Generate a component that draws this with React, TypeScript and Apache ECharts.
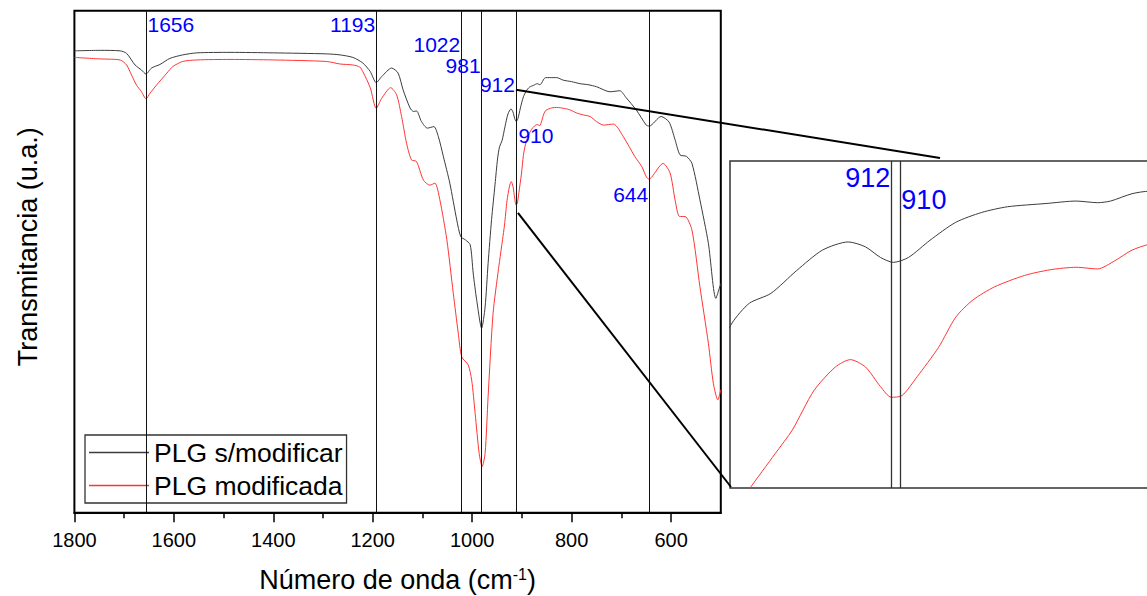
import React, { useEffect, useRef } from "react";
import * as echarts from "echarts";

// ---- Data (wavenumber in cm^-1, transmittance in arbitrary units) ----
const blackWn = [1800, 1748, 1708, 1695, 1678, 1665, 1656, 1645, 1628, 1608, 1582, 1554, 1487, 1400, 1293, 1266, 1240, 1220, 1205, 1193, 1182, 1162, 1149, 1139, 1125, 1118, 1112, 1102, 1090, 1077, 1068, 1058, 1045, 1031, 1023, 1014, 1004, 998, 991, 981, 974, 968, 961, 954, 949, 945, 940, 934, 928, 922, 918, 914.5, 911.5, 908, 903, 897, 891, 885, 876, 869, 864, 861, 856, 852, 844, 830, 817, 800, 783, 767, 750, 723, 703, 691, 670, 650, 644, 620, 604, 592, 582, 569, 558, 542, 525, 510, 502, 500];
const blackT = [91.9, 92.0, 91.9, 91.4, 89.1, 88.1, 87.3, 88.5, 89.2, 90.4, 91.1, 91.5, 91.6, 91.5, 91.3, 91.1, 90.6, 89.5, 87.8, 85.6, 86.8, 88.5, 87.5, 84.2, 80.6, 79.9, 80.0, 77.9, 76.6, 76.9, 74.9, 71.0, 65.7, 58.4, 55.1, 54.5, 53.5, 47.9, 42.6, 37.0, 41.2, 49.8, 58.5, 65.5, 70.5, 72.9, 74.1, 76.9, 79.4, 80.4, 79.8, 78.5, 77.9, 78.5, 80.6, 82.8, 84.0, 84.7, 85.1, 85.4, 85.2, 85.4, 86.3, 86.6, 86.6, 86.6, 86.1, 85.8, 85.4, 85.2, 84.8, 83.8, 84.0, 82.7, 80.2, 77.2, 77.0, 78.9, 77.8, 74.3, 71.3, 71.0, 69.6, 62.4, 53.8, 42.9, 45.2, 45.8];

const redWn = [1800, 1748, 1708, 1695, 1685, 1675, 1665, 1656, 1648, 1635, 1614, 1602, 1582, 1554, 1487, 1400, 1293, 1266, 1240, 1226, 1220, 1205, 1193, 1182, 1164, 1152, 1142, 1132, 1122, 1112, 1098, 1085, 1075, 1065, 1051, 1038, 1028, 1021, 1008, 1001, 994, 986, 980, 974, 968, 958, 947, 945, 939, 935, 930, 925, 921.5, 918, 914.5, 912, 909.5, 906, 901, 897, 893, 888, 881, 875, 869, 864, 860, 856, 852, 846, 840, 830, 815, 803, 790, 776, 763, 750, 736, 716, 696, 673, 659, 649, 644, 639, 616, 602, 592, 583, 572, 558, 542, 525, 515, 506, 500];
const redT = [90.6, 90.3, 90.1, 89.1, 87.1, 85.1, 83.8, 82.4, 83.5, 85.1, 87.5, 88.8, 89.8, 90.1, 90.2, 90.1, 89.8, 89.3, 89.1, 88.7, 87.8, 84.6, 80.5, 82.5, 84.6, 83.2, 78.9, 73.6, 70.3, 70.0, 66.3, 65.3, 65.7, 62.4, 54.5, 43.9, 36.0, 31.3, 29.7, 26.7, 20.1, 12.2, 9.6, 12.2, 23.4, 39.9, 48.8, 50.2, 54.5, 57.4, 62.2, 65.1, 66.0, 65.1, 62.7, 61.4, 61.6, 63.9, 67.5, 71.2, 73.3, 74.9, 76.3, 77.0, 77.3, 77.1, 78.1, 79.4, 80.1, 80.4, 80.6, 80.7, 80.5, 80.2, 79.6, 79.2, 78.9, 77.9, 77.2, 77.4, 74.9, 71.0, 69.0, 66.8, 66.5, 66.9, 69.6, 67.7, 62.4, 59.1, 59.1, 56.4, 45.2, 34.0, 26.1, 22.8, 24.8];

const seriesNames = ["PLG s/modificar", "PLG modificada"];
const peakLines = [1656, 1193, 1022, 981, 912, 644];
const mainLabels = [
  { value: 1656, text: "1656", side: "right", y: 24 },
  { value: 1193, text: "1193", side: "left", y: 24 },
  { value: 1022, text: "1022", side: "left", y: 44.5 },
  { value: 981, text: "981", side: "left", y: 65.5 },
  { value: 912, text: "912", side: "left", y: 84.5 },
  { value: 910, text: "910", side: "right", y: 135.5 },
  { value: 644, text: "644", side: "left", y: 194.5 },
];
const insetLines = [912, 910];
const insetLabels = [
  { value: 912, text: "912", side: "left", y: 178 },
  { value: 910, text: "910", side: "right", y: 200 },
];
const majorTicks = [600, 800, 1000, 1200, 1400, 1600, 1800];
const minorTicks = [700, 900, 1100, 1300, 1500, 1700];

const FONT = "'Liberation Sans', Arial, sans-serif";
const BLACK = "#3c3c3c";
const RED = "#ff3535";
const BLUE = "#0000ff";

const MAIN = { left: 74.4, top: 10.7, width: 646.4, height: 502 };
const INSET = { left: 730, top: 161, width: 430, height: 327 };

const toPairs = (xs: number[], ys: number[]) => xs.map((x, i) => [x, ys[i]]);

export default function App() {
  const ref = useRef<HTMLDivElement>(null);

  useEffect(() => {
    if (!ref.current) return;
    const chart = echarts.init(ref.current, null, { renderer: "svg" });

    const vLine = (vals: number[], color: string, width: number) => ({
      silent: true,
      symbol: ["none", "none"],
      label: { show: false },
      emphasis: { disabled: true },
      lineStyle: { color, width, type: "solid" },
      data: vals.map((v) => ({ xAxis: v })),
    });

    const hiddenAxis = {
      axisLine: { show: false },
      axisTick: { show: false },
      axisLabel: { show: false },
      splitLine: { show: false },
    };

    const option: any = {
      animation: false,
      backgroundColor: "#ffffff",
      grid: [
        {
          ...MAIN,
          outerBoundsMode: "none",
          containLabel: false,
          show: true,
          borderColor: "#000",
          borderWidth: 2,
          backgroundColor: "transparent",
        },
        {
          ...INSET,
          outerBoundsMode: "none",
          containLabel: false,
          show: true,
          borderColor: "#333",
          borderWidth: 1.5,
          backgroundColor: "transparent",
        },
      ],
      xAxis: [
        {
          type: "value",
          gridIndex: 0,
          position: "bottom",
          offset: 0,
          min: 500,
          max: 1800,
          inverse: true,
          name: "Número de onda (cm{sup|-1})",
          nameLocation: "middle",
          nameGap: 54,
          nameTextStyle: {
            fontSize: 27,
            color: "#000",
            fontFamily: FONT,
            rich: { sup: { fontSize: 16, verticalAlign: "top", color: "#000", fontFamily: FONT } },
          },
          axisLine: { show: true, lineStyle: { color: "#000", width: 2 } },
          axisTick: { show: true, length: 9.5, customValues: majorTicks, lineStyle: { color: "#000", width: 1.5 } },
          axisLabel: {
            show: true,
            customValues: majorTicks,
            fontSize: 20,
            color: "#000",
            fontFamily: FONT,
            margin: 17,
            formatter: (v: number) => String(v),
          },
          splitLine: { show: false },
        },
        {
          type: "value",
          gridIndex: 0,
          position: "bottom",
          offset: 0,
          min: 500,
          max: 1800,
          inverse: true,
          axisLine: { show: false },
          axisTick: { show: true, length: 5.5, customValues: minorTicks, lineStyle: { color: "#000", width: 1.5 } },
          axisLabel: { show: false },
          splitLine: { show: false },
        },
        { type: "value", gridIndex: 1, min: 849.5, max: 949.5, inverse: true, ...hiddenAxis },
      ],
      yAxis: [
        {
          type: "value",
          gridIndex: 0,
          min: 0.45,
          max: 99.85,
          name: "Transmitancia (u.a.)",
          nameLocation: "middle",
          nameGap: 33,
          nameTextStyle: { fontSize: 27, color: "#000", fontFamily: FONT, padding: [0, 0, 0, 30] },
          ...hiddenAxis,
        },
        { type: "value", gridIndex: 1, min: 50.3, max: 90.3, ...hiddenAxis },
      ],
      legend: {
        data: seriesNames,
        orient: "vertical",
        left: 85,
        top: 435,
        padding: [4, 4, 4, 4],
        icon: "rect",
        itemWidth: 60,
        itemHeight: 1.6,
        itemGap: 6,
        borderColor: "#333",
        borderWidth: 1.3,
        backgroundColor: "#fff",
        textStyle: { fontSize: 26.5, color: "#000", fontFamily: FONT, lineHeight: 26 },
      },
      series: [
        {
          name: seriesNames[0],
          type: "line",
          xAxisIndex: 0,
          yAxisIndex: 0,
          data: toPairs(blackWn, blackT),
          symbol: "none",
          smooth: 0.25,
          lineStyle: { color: BLACK, width: 1 },
          itemStyle: { color: BLACK },
          markLine: vLine(peakLines, "#111", 1),
          z: 3,
        },
        {
          name: seriesNames[1],
          type: "line",
          xAxisIndex: 0,
          yAxisIndex: 0,
          data: toPairs(redWn, redT),
          symbol: "none",
          smooth: 0.25,
          lineStyle: { color: RED, width: 1 },
          itemStyle: { color: RED },
          z: 3,
        },
        {
          name: seriesNames[0],
          type: "line",
          xAxisIndex: 2,
          yAxisIndex: 1,
          data: toPairs(blackWn, blackT),
          symbol: "none",
          smooth: 0.25,
          lineStyle: { color: BLACK, width: 1 },
          itemStyle: { color: BLACK },
          markLine: vLine(insetLines, "#333", 1.3),
        },
        {
          name: seriesNames[1],
          type: "line",
          xAxisIndex: 2,
          yAxisIndex: 1,
          data: toPairs(redWn, redT),
          symbol: "none",
          smooth: 0.25,
          lineStyle: { color: RED, width: 1 },
          itemStyle: { color: RED },
        },
      ],
    };

    chart.setOption(option);

    const mainPx = (wn: number, t: number) =>
      chart.convertToPixel({ xAxisIndex: 0, yAxisIndex: 0 }, [wn, t]) as number[];
    const insetPx = (wn: number, t: number) =>
      chart.convertToPixel({ xAxisIndex: 2, yAxisIndex: 1 }, [wn, t]) as number[];

    const makeLabel = (x: number, y: number, text: string, side: string, size: number) => ({
      type: "text",
      z: 10,
      style: {
        text,
        x: side === "left" ? x - 1 : x + 1.5,
        y,
        fill: BLUE,
        fontSize: size,
        fontFamily: FONT,
        align: side === "left" ? "right" : "left",
        textAlign: side === "left" ? "right" : "left",
        verticalAlign: "middle",
        textVerticalAlign: "middle",
      },
    });

    const graphics: any[] = [];
    mainLabels.forEach((l) => {
      const [x] = mainPx(l.value, 50);
      graphics.push(makeLabel(x, l.y, l.text, l.side, 21));
    });
    insetLabels.forEach((l) => {
      const [x] = insetPx(l.value, 70);
      graphics.push(makeLabel(x, l.y, l.text, l.side, 27));
    });

    // zoom connector lines
    const a1 = mainPx(912, 84.2);
    const a2 = mainPx(910, 59.8);
    graphics.push({
      type: "line",
      z: 9,
      shape: { x1: a1[0], y1: a1[1], x2: INSET.left + 210, y2: INSET.top - 3 },
      style: { stroke: "#000", lineWidth: 2 },
    });
    graphics.push({
      type: "line",
      z: 9,
      shape: { x1: a2[0] + 1, y1: a2[1], x2: INSET.left + 1, y2: INSET.top + INSET.height - 1 },
      style: { stroke: "#000", lineWidth: 2 },
    });

    chart.setOption({ graphic: graphics });

    return () => chart.dispose();
  }, []);

  return (
    <div
      ref={ref}
      style={{ position: "fixed", left: 0, top: 0, width: 1147, height: 596, background: "#fff" }}
    />
  );
}
